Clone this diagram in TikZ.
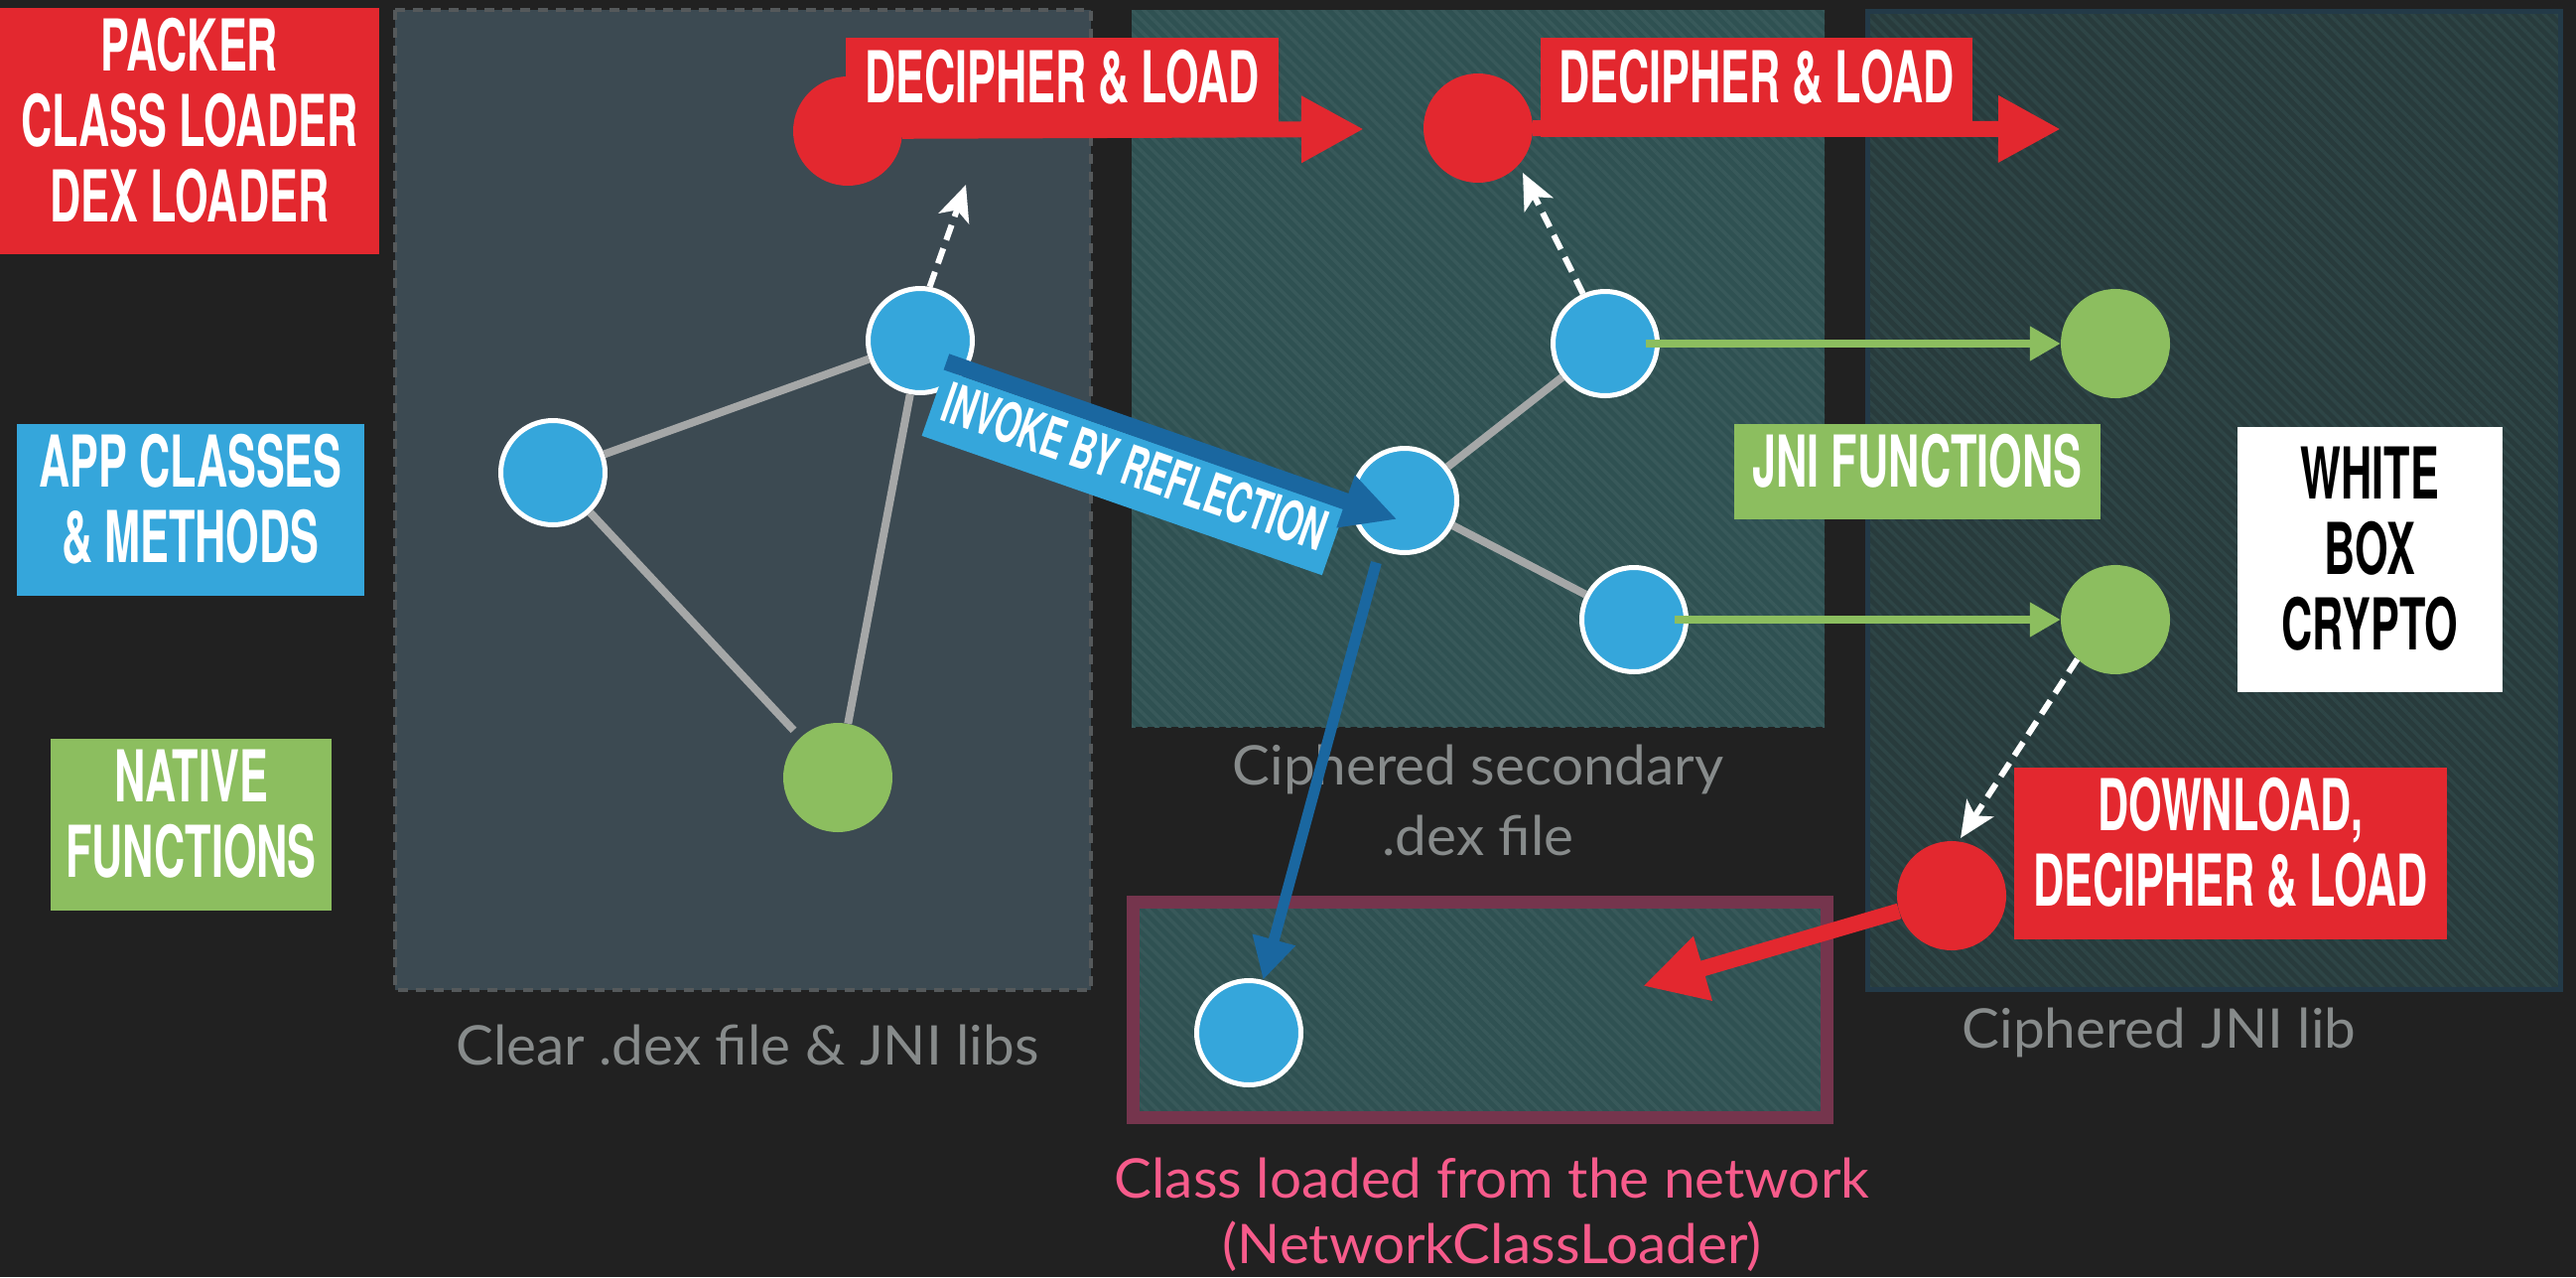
\documentclass[tikz,border=0pt]{standalone}
\usepackage{fontspec}
\usetikzlibrary{arrows.meta,patterns.meta}
\newfontfamily\dinf[FakeStretch=0.6]{TeX Gyre Heros}
\newfontfamily\avn[FakeStretch=1.03]{Lato}
\definecolor{bg}{HTML}{212121}
\definecolor{clearbg}{HTML}{3C4A52}
\definecolor{clearborder}{HTML}{55595B}
\definecolor{cipherbg}{HTML}{2F5152}
\definecolor{cipherstripe}{HTML}{38595A}
\definecolor{jnibg}{HTML}{283B3C}
\definecolor{jnistripe}{HTML}{2E4546}
\definecolor{jniborder}{HTML}{233A48}
\definecolor{netborder}{HTML}{75354D}
\definecolor{pkred}{HTML}{E3282F}
\definecolor{appblue}{HTML}{35A6DB}
\definecolor{darkblue}{HTML}{1A67A0}
\definecolor{natgreen}{HTML}{8CBE5F}
\definecolor{edgegray}{HTML}{A5A7A7}
\definecolor{labgray}{HTML}{878B8B}
\definecolor{netpink}{HTML}{F75B8B}
\newcommand\boxtext[1]{\begin{tabular}{@{}c@{}}#1\end{tabular}}
\newcommand\lbltext[1]{\begin{tabular}[t]{@{}c@{}}#1\end{tabular}}
\begin{document}
\begin{tikzpicture}[x=1pt,y=-1pt,
  boxlbl/.style={inner sep=0pt, text=white, font=\dinf\bfseries\fontsize{72}{76}\selectfont},
  panellbl/.style={inner sep=0pt, anchor=base, text=labgray, font=\avn\fontsize{55}{71}\selectfont},
  bnode/.style={circle, fill=appblue, draw=white, line width=5pt, minimum size=105pt, inner sep=0pt},
  gnode/.style={circle, fill=natgreen, minimum size=110pt, inner sep=0pt},
  rnode/.style={circle, fill=pkred, minimum size=110pt, inner sep=0pt},
  gedge/.style={draw=edgegray, line width=8pt},
  rarrow/.style={draw=pkred, line width=16pt, -{Triangle[length=63pt,width=63pt]}},
  garrow/.style={draw=natgreen, line width=8pt, -{Triangle[length=31pt,width=33pt]}},
  barrow/.style={draw=darkblue, line width=11pt, -{Triangle[length=42pt,width=42pt]}},
  wdash/.style={draw=white, line width=6pt, dash pattern=on 16pt off 9pt, -{Stealth[length=36pt,width=32pt,inset=9pt]}},
  hatchc/.style={preaction={fill=cipherbg}, pattern={Lines[angle=-45,distance=8.5pt,line width=3.5pt]}, pattern color=cipherstripe},
  hatchj/.style={preaction={fill=jnibg}, pattern={Lines[angle=-45,distance=8.5pt,line width=3.5pt]}, pattern color=jnistripe}
]
\useasboundingbox (0,0) rectangle (2595,1286);
\fill[bg] (0,0) rectangle (2595,1286);

% panels
\filldraw[fill=clearbg, draw=clearborder, line width=4pt, dash pattern=on 10pt off 8pt] (398,10) rectangle (1099,997);
\path[hatchc] (1140,10) rectangle (1838,732);
\path[hatchj, draw=jniborder, line width=5pt] (1881.5,11.5) rectangle (2579.5,996.5);
\path[hatchc, draw=netborder, line width=13pt] (1141.5,908.5) rectangle (1840.5,1125.5);

% panel labels
\node[panellbl] (lclear) at (753,1072) {Clear .dex file \& JNI libs};
\node[panellbl] (lcipher) at (1489,790) {\lbltext{Ciphered secondary\\.dex file}};
\node[panellbl] (ljni) at (2175,1055) {Ciphered JNI lib};
\node[panellbl, text=netpink, font=\avn\fontsize{55}{66}\selectfont] (lnet) at (1503,1206) {\lbltext{Class loaded from the network\\(NetworkClassLoader)}};

% legend boxes
\node[boxlbl, fill=pkred, minimum width=382pt, minimum height=248pt] (packer) at (191,132) {\boxtext{PACKER\\CLASS LOADER\\DEX LOADER}};
\node[boxlbl, fill=appblue, minimum width=350pt, minimum height=173pt] (appcls) at (192,513.5) {\boxtext{APP CLASSES\\\& METHODS}};
\node[boxlbl, fill=natgreen, minimum width=283pt, minimum height=173pt] (native) at (192.5,830.5) {\boxtext{NATIVE\\FUNCTIONS}};

% nodes
\node[bnode] (A) at (557,476) {};
\node[bnode] (B) at (927,343) {};
\node[gnode] (G1) at (844,783) {};
\node[bnode] (C) at (1415,504) {};
\node[bnode] (D) at (1617,346) {};
\node[bnode] (E) at (1646,624) {};
\node[gnode] (J1) at (2131,346) {};
\node[gnode] (J2) at (2131,624) {};
\node[bnode] (N) at (1258,1040) {};

% gray edges
\draw[gedge] (A) -- (B);
\draw[gedge, shorten >=10pt] (A) -- (G1);
\draw[gedge] (B) -- (G1);
\draw[gedge] (C) -- (D);
\draw[gedge] (C) -- (E);

% green JNI arrows
\draw[garrow, shorten <=-14pt] (D) -- (J1);
\draw[garrow, shorten <=-14pt] (E) -- (J2);

% labels
\node[boxlbl, fill=natgreen, minimum width=369pt, minimum height=96pt] (jnif) at (1931.5,475) {\boxtext{JNI FUNCTIONS}};
\node[boxlbl, fill=white, text=black, minimum width=267pt, minimum height=267pt] (wbc) at (2387.5,563.5) {\boxtext{WHITE\\BOX\\CRYPTO}};

% white dashed arrows
\coordinate (w1) at (973,186);
\coordinate (w2) at (1534,174);
\coordinate (w3) at (1975,844);
\draw[wdash] (B.80) -- (w1);
\draw[wdash] (D.114) -- (w2);
\draw[wdash] (J2.226) -- (w3);

% red decipher banners
\node[rnode] (R1) at (854,132) {};
\coordinate (t1) at (1374,130);
\draw[rarrow] (R1) -- (t1);
\node[boxlbl, fill=pkred, minimum width=436pt, minimum height=100pt] (dec1) at (1070,88) {\boxtext{DECIPHER \& LOAD}};

\node[rnode] (R2) at (1489,129) {};
\coordinate (t2) at (2076,130);
\draw[rarrow] (R2) -- (t2);
\node[boxlbl, fill=pkred, minimum width=435pt, minimum height=100pt] (dec2) at (1769.5,88) {\boxtext{DECIPHER \& LOAD}};

\node[rnode] (R3) at (1966,902) {};
\coordinate (t3) at (1655,993);
\draw[rarrow] (R3) -- (t3);
\node[boxlbl, fill=pkred, minimum width=436pt, minimum height=173pt] (dl) at (2247,859.5) {\boxtext{DOWNLOAD,\\DECIPHER \& LOAD}};

% blue arrow to network class
\draw[barrow, shorten <=14pt] (C.243) -- (N);

% invoke by reflection banner
\begin{scope}[shift={(927,343)}, rotate=-19.2]
  \coordinate (inv0) at (32,11.5);
  \coordinate (inv1) at (513,12);
  \node[boxlbl, transform shape, fill=appblue, minimum width=427pt, minimum height=70pt, font=\dinf\bfseries\fontsize{56}{47.5}\selectfont] (invoke) at (246.5,55) {\boxtext{INVOKE BY REFLECTION}};
\end{scope}
\draw[draw=darkblue, line width=17pt, -{Triangle[length=55pt,width=52pt]}] (inv0) -- (inv1);
\end{tikzpicture}
\end{document}
